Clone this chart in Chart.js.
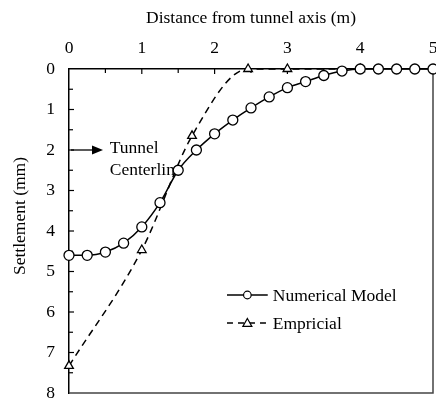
<!DOCTYPE html>
<html>
<head>
<meta charset="utf-8">
<script src="https://cdn.jsdelivr.net/npm/chart.js@4"></script>
<style>
  body { margin: 0; background: #fff; }
  canvas { display: block; }
</style>
</head>
<body>
<canvas id="settlementChart" width="436" height="398"></canvas>
<script>
// data
var numericalX = [0, 0.25, 0.5, 0.75, 1, 1.25, 1.5, 1.75, 2, 2.25, 2.5, 2.75, 3, 3.25, 3.5, 3.75, 4, 4.25, 4.5, 4.75, 5];
var numericalY = [4.6, 4.6, 4.52, 4.3, 3.9, 3.3, 2.5, 2.0, 1.6, 1.26, 0.96, 0.69, 0.46, 0.31, 0.16, 0.05, 0, 0, 0, 0, 0];
var empiricalX = [0, 1, 1.69, 2.46, 3, 4];
var empiricalY = [7.33, 4.47, 1.65, 0, 0, 0];
var xTicks = [0, 1, 2, 3, 4, 5];
var yTicks = [0, 1, 2, 3, 4, 5, 6, 7, 8];

var serif = "'Liberation Serif', 'Times New Roman', serif";

function toPoints(xs, ys) {
    return xs.map(function (x, i) { return { x: x, y: ys[i] }; });
}

// inward ticks, frame, annotation, legend and y title
var decorations = {
    id: 'decorations',
    beforeDatasetsDraw: function (chart) {
        var ctx = chart.ctx, a = chart.chartArea;
        var xs = chart.scales.x, ys = chart.scales.y;
        ctx.save();
        ctx.strokeStyle = '#000';
        ctx.lineWidth = 1.2;
        for (var v = 0.5; v < 5; v += 0.5) {
            var px = xs.getPixelForValue(v);
            ctx.beginPath();
            ctx.moveTo(px, a.top);
            ctx.lineTo(px, a.top + (v % 1 === 0 ? 5 : 4));
            ctx.stroke();
        }
        for (var w = 0.5; w < 8; w += 0.5) {
            var py = ys.getPixelForValue(w);
            ctx.beginPath();
            ctx.moveTo(a.left, py);
            ctx.lineTo(a.left + (w % 1 === 0 ? 5 : 4), py);
            ctx.stroke();
        }
        // right and bottom frame
        ctx.strokeStyle = '#444';
        ctx.lineWidth = 1.5;
        ctx.beginPath();
        ctx.moveTo(a.right, a.top);
        ctx.lineTo(a.right, a.bottom);
        ctx.lineTo(a.left, a.bottom);
        ctx.stroke();

        // Tunnel centerline arrow
        var ay = ys.getPixelForValue(2);
        ctx.strokeStyle = '#000';
        ctx.fillStyle = '#000';
        ctx.lineWidth = 1.3;
        ctx.beginPath();
        ctx.moveTo(a.left + 2, ay);
        ctx.lineTo(a.left + 26, ay);
        ctx.stroke();
        ctx.beginPath();
        ctx.moveTo(a.left + 34, ay);
        ctx.lineTo(a.left + 23, ay - 4.5);
        ctx.lineTo(a.left + 23, ay + 4.5);
        ctx.closePath();
        ctx.fill();
        ctx.font = '17.5px ' + serif;
        ctx.textAlign = 'left';
        ctx.textBaseline = 'middle';
        ctx.fillText('Tunnel', xs.getPixelForValue(0.56), ys.getPixelForValue(1.96));
        ctx.fillText('Centerline', xs.getPixelForValue(0.56), ys.getPixelForValue(2.5));

        // y axis title
        ctx.save();
        ctx.translate(20, 216);
        ctx.rotate(-Math.PI / 2);
        ctx.textAlign = 'center';
        ctx.fillText('Settlement (mm)', 0, 0);
        ctx.restore();
        ctx.restore();
    },
    afterDraw: function (chart) {
        var ctx = chart.ctx;
        var xs = chart.scales.x, ys = chart.scales.y;
        var x0 = xs.getPixelForValue(2.17), x1 = xs.getPixelForValue(2.73);
        var xm = (x0 + x1) / 2;
        var items = [
            { text: 'Numerical Model', y: ys.getPixelForValue(5.58), dash: [], marker: 'circle' },
            { text: 'Empricial', y: ys.getPixelForValue(6.27), dash: [6, 5], marker: 'triangle' }
        ];
        ctx.save();
        ctx.font = '17.5px ' + serif;
        ctx.textBaseline = 'middle';
        ctx.textAlign = 'left';
        items.forEach(function (it) {
            ctx.strokeStyle = '#000';
            ctx.lineWidth = 1.5;
            ctx.setLineDash(it.dash);
            ctx.beginPath();
            ctx.moveTo(x0, it.y);
            ctx.lineTo(x1, it.y);
            ctx.stroke();
            ctx.setLineDash([]);
            ctx.fillStyle = '#fff';
            ctx.lineWidth = 1.2;
            ctx.beginPath();
            if (it.marker === 'circle') {
                ctx.arc(xm, it.y, 3.8, 0, Math.PI * 2);
            } else {
                ctx.moveTo(xm, it.y - 4.5);
                ctx.lineTo(xm + 4.5, it.y + 3.5);
                ctx.lineTo(xm - 4.5, it.y + 3.5);
                ctx.closePath();
            }
            ctx.fill();
            ctx.stroke();
            ctx.fillStyle = '#000';
            ctx.fillText(it.text, x1 + 5, it.y + 1);
        });
        ctx.restore();
    }
};

var config = {
    type: 'line',
    data: {
        datasets: [{
            label: 'Numerical Model',
            data: toPoints(numericalX, numericalY),
            borderColor: '#000',
            borderWidth: 1.5,
            backgroundColor: '#fff',
            pointStyle: 'circle',
            pointRadius: 5,
            pointBorderWidth: 1.3,
            pointBorderColor: '#000',
            pointBackgroundColor: '#fff',
            cubicInterpolationMode: 'monotone',
            clip: false
        }, {
            label: 'Empricial',
            data: toPoints(empiricalX, empiricalY),
            borderColor: '#000',
            borderWidth: 1.5,
            borderDash: [7, 5],
            backgroundColor: '#fff',
            pointStyle: 'triangle',
            pointRadius: 5,
            pointBorderWidth: 1.3,
            pointBorderColor: '#000',
            pointBackgroundColor: '#fff',
            cubicInterpolationMode: 'monotone',
            clip: false
        }]
    },
    options: {
        responsive: false,
        animation: false,
        devicePixelRatio: 1,
        layout: { autoPadding: false, padding: { left: 0, top: 0, right: 3, bottom: 5 } },
        plugins: {
            legend: { display: false },
            tooltip: { enabled: false }
        },
        scales: {
            x: {
                type: 'linear',
                position: 'top',
                min: 0,
                max: 5,
                afterBuildTicks: function (s) { s.ticks = xTicks.map(function (v) { return { value: v }; }); },
                afterFit: function (s) { s.height = 69; s.paddingRight = 0; s.paddingLeft = 0; },
                ticks: { color: '#000', padding: 10, font: { family: serif, size: 17.5 } },
                grid: { display: false, drawTicks: false },
                border: { display: true, color: '#000', width: 1.5 },
                title: {
                    display: true,
                    text: 'Distance from tunnel axis (m)',
                    color: '#000',
                    font: { family: serif, size: 17.5 },
                    padding: { top: 8, bottom: 0 }
                }
            },
            y: {
                type: 'linear',
                reverse: true,
                min: 0,
                max: 8,
                afterBuildTicks: function (s) { s.ticks = yTicks.map(function (v) { return { value: v }; }); },
                afterFit: function (s) { s.width = 69; s.paddingBottom = 0; s.paddingTop = 0; },
                ticks: { color: '#000', padding: 14, font: { family: serif, size: 17.5 } },
                grid: { display: false, drawTicks: false },
                border: { display: true, color: '#000', width: 1.5 }
            }
        }
    },
    plugins: [decorations]
};

new Chart(document.getElementById('settlementChart'), config);
</script>
</body>
</html>
